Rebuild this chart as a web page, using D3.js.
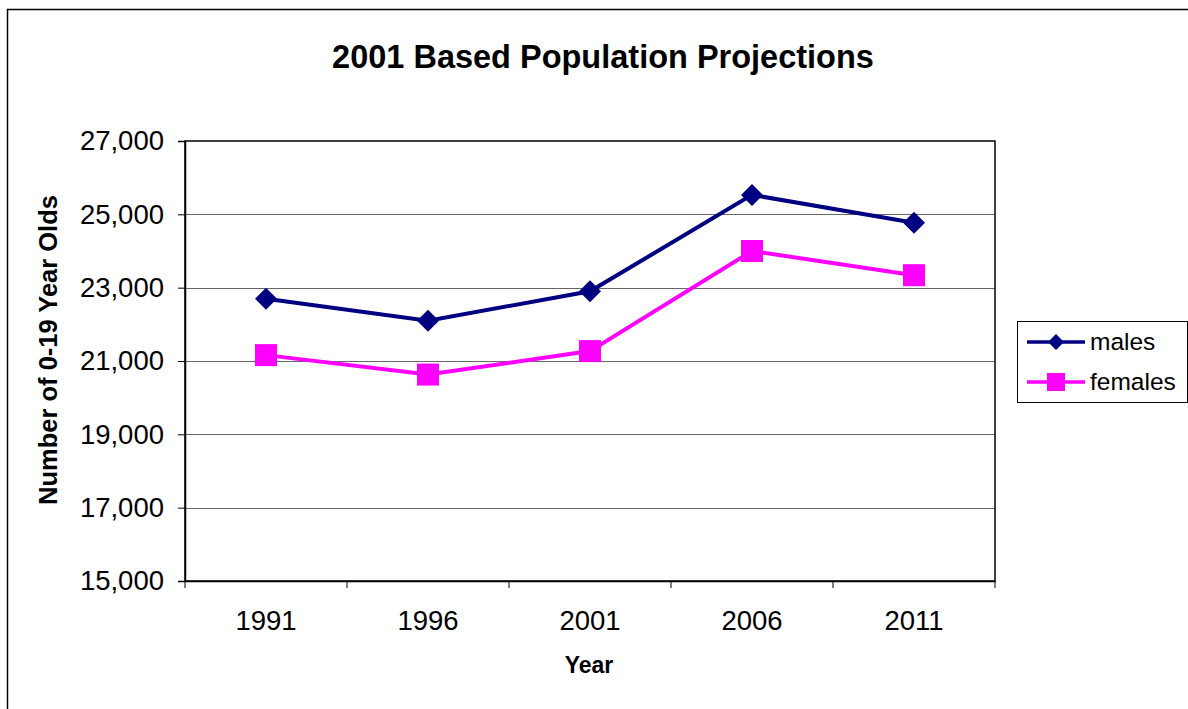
<!DOCTYPE html>
<html>
<head>
<meta charset="utf-8">
<script src="https://cdn.jsdelivr.net/npm/d3@7"></script>
<style>
  body { margin: 0; background: #fff; }
  text { font-family: "Liberation Sans", Arial, sans-serif; }
</style>
</head>
<body>
<script>
let years = ["1991", "1996", "2001", "2006", "2011"];
let males = [22700, 22100, 22900, 25530, 24770];
let females = [21160, 20630, 21270, 24000, 23340];
let yTicks = [15000, 17000, 19000, 21000, 23000, 25000, 27000];

let W = 1188, H = 709;
let margin = {top: 141, left: 185};
let width = 810, height = 440;

let svg = d3.select("body").append("svg")
  .attr("width", W)
  .attr("height", H);

// outer chart border (runs off the right and bottom edges)
svg.append("rect")
  .attr("x", 7.5).attr("y", 9.5)
  .attr("width", W + 20).attr("height", H + 20)
  .attr("fill", "none").attr("stroke", "#000").attr("stroke-width", 1.5);

svg.append("text")
  .attr("x", 603).attr("y", 68)
  .attr("text-anchor", "middle")
  .style("font-size", "32.5px").style("font-weight", "bold")
  .text("2001 Based Population Projections");

let g = svg.append("g")
  .attr("transform", "translate(" + margin.left + "," + margin.top + ")");

let xScale = d3.scaleBand().domain(years).range([0, width]);
let yScale = d3.scaleLinear().domain([15000, 27000]).range([height, 0]);

// gridlines
g.selectAll(".grid").data(yTicks.slice(1, -1)).enter()
  .append("line")
  .attr("x1", 0).attr("x2", width)
  .attr("y1", d => Math.round(yScale(d)) + 0.5)
  .attr("y2", d => Math.round(yScale(d)) + 0.5)
  .attr("stroke", "#666").attr("stroke-width", 1);

// plot frame
g.append("rect")
  .attr("x", 0).attr("y", 0).attr("width", width).attr("height", height)
  .attr("fill", "none").attr("stroke", "#000").attr("stroke-width", 1.5);

let yAxis = d3.axisLeft(yScale).tickValues(yTicks).tickSize(7).tickPadding(14)
  .tickFormat(d3.format(","));
let yg = g.append("g").call(yAxis);
yg.select(".domain").attr("stroke-width", 1.5);
yg.selectAll("text").style("font-size", "27.5px").attr("fill", "#000")
  .attr("font-family", "Liberation Sans, Arial, sans-serif");

let xAxis = d3.axisBottom(xScale).tickSize(0).tickPadding(29);
let xg = g.append("g").attr("transform", "translate(0," + height + ")").call(xAxis);
xg.select(".domain").attr("stroke-width", 1.5);
xg.selectAll("text").style("font-size", "27.5px").attr("fill", "#000")
  .attr("font-family", "Liberation Sans, Arial, sans-serif");

// tick marks at category boundaries
let bounds = years.map(y => xScale(y)).concat([width]);
xg.selectAll(".bound").data(bounds).enter()
  .append("line")
  .attr("x1", d => d).attr("x2", d => d)
  .attr("y1", 0).attr("y2", 7)
  .attr("stroke", "#000").attr("stroke-width", 1);

svg.append("text")
  .attr("x", 589).attr("y", 673)
  .attr("text-anchor", "middle")
  .style("font-size", "23px").style("font-weight", "bold")
  .text("Year");

svg.append("text")
  .attr("transform", "translate(57,350) rotate(-90)")
  .attr("text-anchor", "middle")
  .style("font-size", "25.5px").style("font-weight", "bold")
  .text("Number of 0-19 Year Olds");

let cx = d => xScale(d) + xScale.bandwidth() / 2;
let line = d3.line().x(d => cx(d.year)).y(d => yScale(d.value));

let series = [
  {name: "males", values: males, color: "#000080", shape: "diamond"},
  {name: "females", values: females, color: "#ff00ff", shape: "square"}
];

function marker(sel, shape, color, r) {
  if (shape === "diamond") {
    sel.append("path").attr("d", "M0," + (-r) + "L" + r + ",0L0," + r + "L" + (-r) + ",0Z")
      .attr("fill", color);
  } else {
    sel.append("rect").attr("x", -r).attr("y", -r).attr("width", 2 * r).attr("height", 2 * r)
      .attr("fill", color);
  }
}

series.forEach(function(s) {
  let data = years.map((y, i) => ({year: y, value: s.values[i]}));
  g.append("path")
    .datum(data)
    .attr("d", line)
    .attr("fill", "none")
    .attr("stroke", s.color)
    .attr("stroke-width", 4);
  data.forEach(function(d) {
    let m = g.append("g").attr("transform", "translate(" + cx(d.year) + "," + yScale(d.value) + ")");
    marker(m, s.shape, s.color, 11);
  });
});

// legend
let lg = svg.append("g").attr("transform", "translate(1017,321)");
lg.append("rect")
  .attr("x", 0.5).attr("y", 0.5).attr("width", 170).attr("height", 81)
  .attr("fill", "#fff").attr("stroke", "#000").attr("stroke-width", 1);
series.forEach(function(s, i) {
  let yy = 21 + i * 40;
  lg.append("line")
    .attr("x1", 10).attr("x2", 68).attr("y1", yy).attr("y2", yy)
    .attr("stroke", s.color).attr("stroke-width", 3.5);
  let m = lg.append("g").attr("transform", "translate(39," + yy + ")");
  marker(m, s.shape, s.color, s.shape === "diamond" ? 8 : 9);
  lg.append("text")
    .attr("x", 73).attr("y", yy + 8)
    .style("font-size", "24.5px")
    .text(s.name);
});
</script>
</body>
</html>
